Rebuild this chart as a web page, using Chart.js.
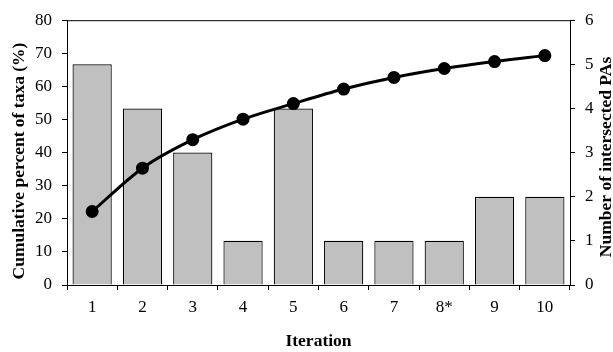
<!DOCTYPE html>
<html>
<head>
<meta charset="utf-8">
<script src="https://cdn.jsdelivr.net/npm/chart.js@4"></script>
<style>
  html, body { margin: 0; padding: 0; background: #fff; }
  #wrap { width: 613px; height: 352px; }
</style>
</head>
<body>
<div id="wrap"><canvas id="paChart" width="613" height="352"></canvas></div>
<script>
// data
const iterations = ['1', '2', '3', '4', '5', '6', '7', '8*', '9', '10'];
const intersectedPAs = [5, 4, 3, 1, 4, 1, 1, 1, 2, 2];
const cumulativePercent = [22.2, 35.3, 43.9, 50.1, 54.8, 59.2, 62.7, 65.4, 67.5, 69.3];
const leftTicks = [0, 10, 20, 30, 40, 50, 60, 70, 80];
const rightTicks = [0, 1, 2, 3, 4, 5, 6];

const leftTitle = 'Cumulative percent of taxa (%)';
const rightTitle = 'Number of intersected PAs';

const serif = '"Liberation Serif", "Times New Roman", serif';

// frame on top + side titles reading bottom to top
const framePlugin = {
  id: 'frame',
  afterDraw(chart) {
    const { ctx, chartArea } = chart;
    ctx.save();
    ctx.strokeStyle = '#000';
    ctx.lineWidth = 1;
    ctx.beginPath();
    ctx.moveTo(chartArea.left, chartArea.top + 0.5);
    ctx.lineTo(chartArea.right, chartArea.top + 0.5);
    ctx.stroke();

    ctx.fillStyle = '#000';
    ctx.font = 'bold 17.5px ' + serif;
    ctx.textAlign = 'center';
    ctx.textBaseline = 'middle';
    ctx.translate(19, 161);
    ctx.rotate(-Math.PI / 2);
    ctx.fillText(leftTitle, 0, 0);
    ctx.restore();

    ctx.save();
    ctx.fillStyle = '#000';
    ctx.font = 'bold 17.5px ' + serif;
    ctx.textAlign = 'center';
    ctx.textBaseline = 'middle';
    ctx.translate(606, 157);
    ctx.rotate(-Math.PI / 2);
    ctx.fillText(rightTitle, 0, 0);
    ctx.restore();
  }
};

const ctx = document.getElementById('paChart');

new Chart(ctx, {
  type: 'bar',
  data: {
    labels: iterations,
    datasets: [
      {
        type: 'line',
        label: 'Cumulative percent',
        data: cumulativePercent,
        yAxisID: 'y',
        borderColor: '#000',
        backgroundColor: '#000',
        borderWidth: 3,
        pointRadius: 5,
        pointBackgroundColor: '#000',
        pointBorderColor: '#000',
        cubicInterpolationMode: 'monotone',
        order: 0
      },
      {
        type: 'bar',
        label: 'Intersected PAs',
        data: intersectedPAs,
        yAxisID: 'y1',
        backgroundColor: '#c0c0c0',
        borderColor: '#000',
        borderWidth: 1.2,
        barPercentage: 0.78,
        categoryPercentage: 1,
        order: 1
      }
    ]
  },
  options: {
    responsive: false,
    animation: false,
    layout: { padding: { top: 15, left: 0, right: 0, bottom: 0 } },
    plugins: {
      legend: { display: false },
      tooltip: { enabled: false }
    },
    scales: {
      x: {
        offset: true,
        grid: {
          offset: true,
          drawOnChartArea: false,
          drawTicks: true,
          tickLength: 5,
          color: '#000'
        },
        border: { color: '#000', width: 1 },
        ticks: {
          color: '#000',
          padding: 7,
          font: { family: serif, size: 17 }
        },
        title: {
          display: true,
          text: 'Iteration',
          color: '#000',
          padding: 0,
          font: { family: serif, size: 17.5, weight: 'bold' }
        },
        afterFit(scale) { scale.height = 67; }
      },
      y: {
        position: 'left',
        min: 0,
        max: 80,
        afterBuildTicks(scale) { scale.ticks = leftTicks.map(v => ({ value: v })); },
        grid: {
          drawOnChartArea: false,
          drawTicks: true,
          tickLength: 5,
          color: '#000'
        },
        border: { color: '#000', width: 1 },
        ticks: {
          color: '#000',
          padding: 10,
          font: { family: serif, size: 17 }
        },
        afterFit(scale) { scale.width = 67; }
      },
      y1: {
        position: 'right',
        min: 0,
        max: 6,
        afterBuildTicks(scale) { scale.ticks = rightTicks.map(v => ({ value: v })); },
        grid: {
          drawOnChartArea: false,
          drawTicks: true,
          tickLength: 5,
          color: '#000'
        },
        border: { color: '#000', width: 1 },
        ticks: {
          color: '#000',
          padding: 10,
          font: { family: serif, size: 17 }
        },
        afterFit(scale) { scale.width = 43; }
      }
    }
  },
  plugins: [framePlugin]
});
</script>
</body>
</html>
